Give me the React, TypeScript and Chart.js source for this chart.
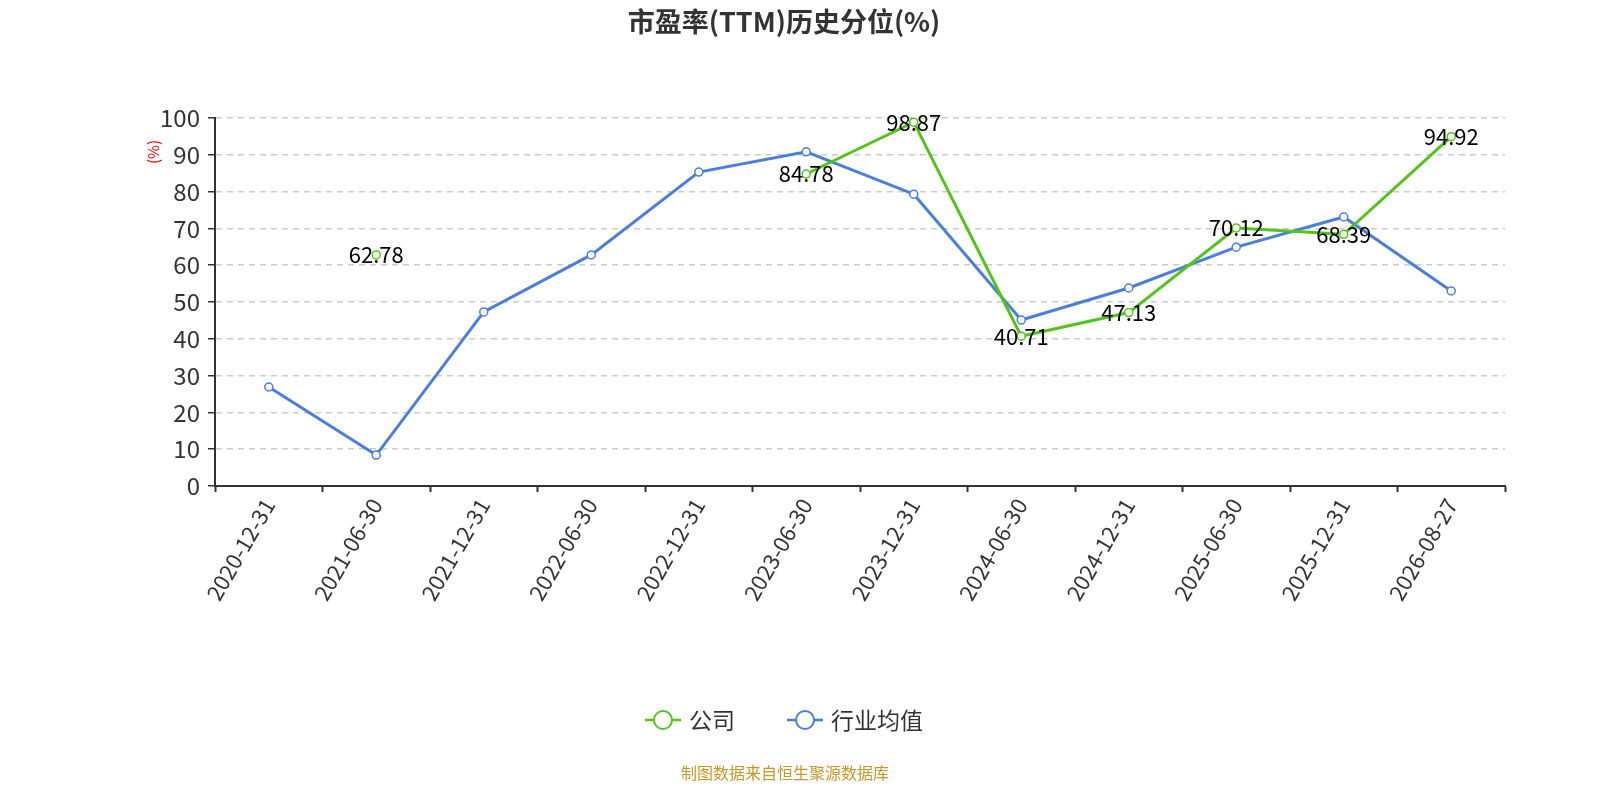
import { useEffect, useRef } from 'react'
import { Chart, registerables, Plugin } from 'chart.js'

Chart.register(...registerables)

const categories = [
  '2020-12-31', '2021-06-30', '2021-12-31', '2022-06-30', '2022-12-31', '2023-06-30',
  '2023-12-31', '2024-06-30', '2024-12-31', '2025-06-30', '2025-12-31', '2026-08-27',
]
const companyValues: (number | null)[] = [
  null, 62.78, null, null, null, 84.78, 98.87, 40.71, 47.13, 70.12, 68.39, 94.92,
]
const industryValues = [26.9, 8.4, 47.3, 62.8, 85.3, 90.8, 79.3, 45.1, 53.8, 64.9, 73.1, 53.0]
const seriesNames = ['公司', '行业均值']
const seriesColors = ['#52c41a', '#4a7fe0']

const FONT = '"Noto Sans CJK SC", "Noto Sans", sans-serif'

const decorPlugin: Plugin<'line'> = {
  id: 'decor',
  afterDatasetsDraw(chart) {
    const ctx = chart.ctx
    // data labels for company series
    const meta = chart.getDatasetMeta(0)
    ctx.save()
    ctx.font = `22px ${FONT}`
    ctx.fillStyle = '#000'
    ctx.textAlign = 'center'
    ctx.textBaseline = 'middle'
    meta.data.forEach((pt, i) => {
      const v = companyValues[i]
      if (v == null) return
      ctx.fillText(v.toFixed(2), pt.x, pt.y)
    })
    ctx.restore()
  },
  afterDraw(chart) {
    const ctx = chart.ctx
    ctx.save()
    // title
    ctx.font = `bold 27px ${FONT}`
    ctx.fillStyle = '#333'
    ctx.textAlign = 'center'
    ctx.textBaseline = 'middle'
    ctx.fillText('市盈率(TTM)历史分位(%)', 784, 22)

    // y axis unit
    ctx.save()
    ctx.translate(153, 152)
    ctx.rotate(-Math.PI / 2)
    ctx.font = `15px ${FONT}`
    ctx.fillStyle = '#ff0000'
    ctx.fillText('(%)', 0, 0)
    ctx.restore()

    // legend
    const legendY = 720
    const items = [
      { x: 645, name: seriesNames[0], color: seriesColors[0] },
      { x: 787, name: seriesNames[1], color: seriesColors[1] },
    ]
    items.forEach((it) => {
      ctx.strokeStyle = it.color
      ctx.lineWidth = 2.5
      ctx.beginPath()
      ctx.moveTo(it.x, legendY)
      ctx.lineTo(it.x + 36, legendY)
      ctx.stroke()
      ctx.beginPath()
      ctx.arc(it.x + 18, legendY, 9, 0, Math.PI * 2)
      ctx.fillStyle = '#fff'
      ctx.fill()
      ctx.lineWidth = 2
      ctx.stroke()
      ctx.font = `23px ${FONT}`
      ctx.fillStyle = '#333'
      ctx.textAlign = 'left'
      ctx.fillText(it.name, it.x + 44, legendY)
    })

    // source
    ctx.font = `16px ${FONT}`
    ctx.fillStyle = '#c8962a'
    ctx.textAlign = 'center'
    ctx.fillText('制图数据来自恒生聚源数据库', 785, 773)
    ctx.restore()
  },
}

export default function App() {
  const canvasRef = useRef<HTMLCanvasElement | null>(null)

  useEffect(() => {
    document.body.style.margin = '0'
    document.body.style.overflow = 'hidden'
    let chart: Chart<'line', (number | null)[], string> | null = null
    if (canvasRef.current) {
      chart = new Chart(canvasRef.current, {
        type: 'line',
        data: {
          labels: categories,
          datasets: [
            {
              label: seriesNames[0],
              data: companyValues,
              borderColor: seriesColors[0],
              backgroundColor: '#fff',
              pointBorderColor: seriesColors[0],
              pointBackgroundColor: '#fff',
              borderWidth: 3,
              pointRadius: 4,
              pointBorderWidth: 1.5,
              spanGaps: false,
              tension: 0,
            },
            {
              label: seriesNames[1],
              data: industryValues,
              borderColor: seriesColors[1],
              backgroundColor: '#fff',
              pointBorderColor: seriesColors[1],
              pointBackgroundColor: '#fff',
              borderWidth: 3,
              pointRadius: 4,
              pointBorderWidth: 1.5,
              tension: 0,
            },
          ],
        },
        options: {
          responsive: false,
          animation: false,
          layout: { padding: { top: 118, right: 95, left: 0, bottom: 0 } },
          plugins: {
            legend: { display: false },
            title: { display: false },
            tooltip: { enabled: false },
          },
          scales: {
            x: {
              offset: true,
              grid: {
                offset: true,
                drawOnChartArea: false,
                drawTicks: true,
                tickLength: 6,
                tickColor: '#333',
                tickWidth: 2,
              },
              border: { color: '#333', width: 2 },
              ticks: {
                autoSkip: false,
                maxRotation: 60,
                minRotation: 60,
                font: { size: 22, family: FONT },
                color: '#333',
                padding: 2,
              },
              afterFit: (scale) => {
                scale.height = 314
              },
            },
            y: {
              min: 0,
              max: 100,
              ticks: {
                stepSize: 10,
                font: { size: 24, family: FONT },
                color: '#333',
                padding: 8,
              },
              grid: {
                color: '#cccccc',
                lineWidth: 1.5,
                tickColor: '#333',
                tickLength: 7,
                tickBorderDash: [],
              },
              border: { color: '#333', width: 2, dash: [6, 5] },
              afterFit: (scale) => {
                scale.width = 215
              },
            },
          },
        },
        plugins: [decorPlugin],
      })
    }
    return () => {
      if (chart) chart.destroy()
    }
  }, [])

  return (
    <div style={{ width: 1600, height: 800, overflow: 'hidden' }}>
      <canvas ref={canvasRef} width={1600} height={800} style={{ display: 'block' }} />
    </div>
  )
}
